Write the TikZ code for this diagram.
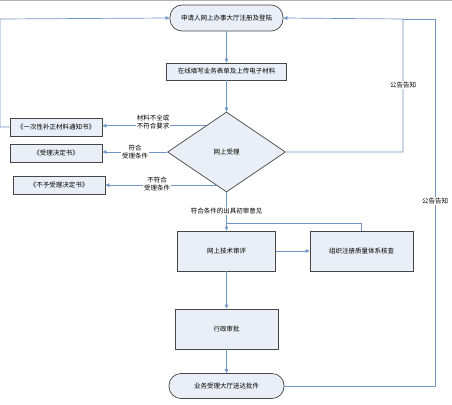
\documentclass[tikz,border=0pt]{standalone}
\usepackage{fontspec}
\setmainfont{Noto Sans CJK SC}
\usetikzlibrary{shapes.geometric,arrows.meta,calc}
\definecolor{lnc}{RGB}{112,150,200}
\definecolor{boxfill}{RGB}{233,238,247}
\definecolor{boxdraw}{RGB}{70,70,70}
\tikzset{
  every node/.style={font=\fontsize{6.5}{8}\selectfont, inner sep=0pt},
  boxnode/.style={draw=boxdraw, fill=boxfill, line width=0.7pt, rectangle, align=center},
  pill/.style={boxnode, rounded corners=12pt},
  dia/.style={draw=boxdraw, fill=boxfill, line width=0.7pt, diamond},
  conn/.style={draw=lnc, line width=0.7pt},
  arr/.style={conn, -{Triangle[length=4pt,width=3.5pt]}},
  lbl/.style={fill=white, align=center, inner sep=1pt}
}
\begin{document}
\begin{tikzpicture}[x=1pt,y=-1pt]
\useasboundingbox (0,0) rectangle (452,404);
\fill[white] (0,0) rectangle (452,404);
\draw[gray!60, line width=0.8pt] (0,0.5) -- (452,0.5);

\node[pill, minimum width=113pt, minimum height=26pt] (top) at (226.5,18) {申请人网上办事大厅注册及登陆};
\node[boxnode, minimum width=120pt, minimum height=17pt] (form) at (226.5,71.5) {在线填写业务表单及上传电子材料};
\node[dia, minimum width=118pt, minimum height=80pt] (d) at (226.5,152) {网上受理};
\node[boxnode, minimum width=92pt, minimum height=18pt] (b1) at (56,127) {《一次性补正材料通知书》};
\node[boxnode, minimum width=92pt, minimum height=18pt] (b2) at (56,153) {《受理决定书》};
\node[boxnode, minimum width=92pt, minimum height=18pt] (b3) at (59,185) {《不予受理决定书》};
\node[boxnode, minimum width=98pt, minimum height=40pt] (rev) at (226.5,251) {网上技术审评};
\node[boxnode, minimum width=103pt, minimum height=40pt] (org) at (361.5,251) {组织注册质量体系核查};
\node[boxnode, minimum width=103pt, minimum height=40pt] (adm) at (226.5,329) {行政审批};
\node[pill, minimum width=115pt, minimum height=25pt] (bot) at (226.5,386) {业务受理大厅送达批件};

\coordinate (c1) at ($(d.north)!0.35!(d.west)$);
\coordinate (c3) at ($(d.west)!0.82!(d.south)$);
\coordinate (lc) at (0,19);
\coordinate (r1) at (403,19);
\coordinate (r2) at (435,19);
\coordinate (j) at (226.5,223);

\draw[arr] (top) -- (form);
\draw[arr] (form) -- (d);
\draw[arr] (c1) -- (c1 -| b1.east);
\draw[arr] (d.west) -- (d.west -| b2.east);
\draw[arr] (c3) -- (c3 -| b3.east);
\draw[arr] (d.south) -- (rev.north);
\draw[arr] (rev.east) -- (org.west);
\draw[conn] (org.north) |- (j);
\draw[arr] (rev) -- (adm);
\draw[arr] (adm) -- (bot);
\draw[arr] (b1.west) -| (lc) -- (top.west);
\draw[arr] (d.east) -| (r1) -- (top.east);
\draw[conn] (bot.east) -| (r2) -- (r1);

\node[lbl] (l1) at (153,122) {材料不全或\\不符合要求};
\node[lbl] (l2) at (135,152) {符合\\受理条件};
\node[lbl] (l3) at (157,184) {不符合\\受理条件};
\node[lbl] (l4) at (226.5,211) {符合条件的出具初审意见};
\node[lbl] (l5) at (403,85) {公告告知};
\node[lbl] (l6) at (435,201) {公告告知};
\end{tikzpicture}
\end{document}
